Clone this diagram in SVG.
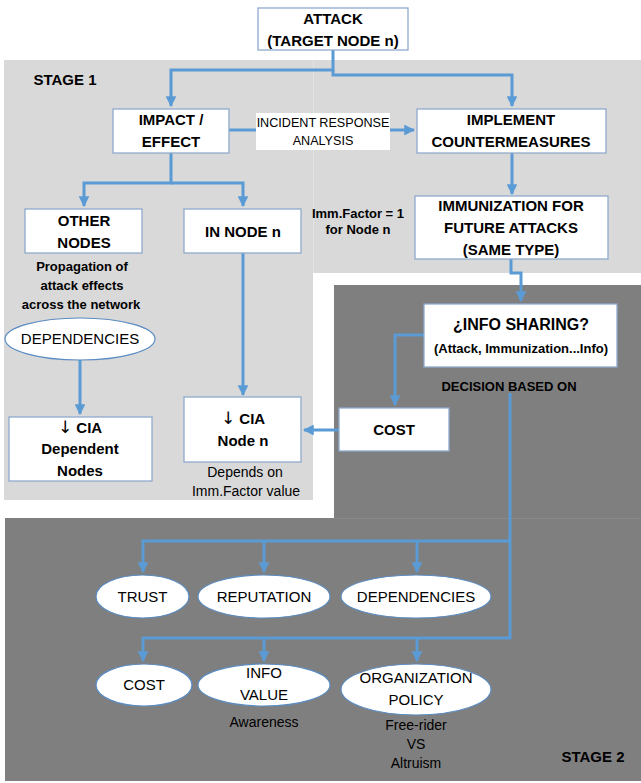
<svg xmlns="http://www.w3.org/2000/svg" width="641" height="783" viewBox="0 0 641 783">
<defs>
<style>
.box{fill:#ffffff;stroke:#8faacd;stroke-width:1.3}
.ell{fill:#ffffff;stroke:#5b8cc2;stroke-width:1.2}
.con{fill:none;stroke:#5b9bd5;stroke-width:3}
.b15{font-family:"Liberation Sans",Arial,sans-serif;font-weight:bold;font-size:15px;fill:#000;text-anchor:middle}
.b13{font-family:"Liberation Sans",Arial,sans-serif;font-weight:bold;font-size:13px;fill:#000;text-anchor:middle}
.r15{font-family:"Liberation Sans",Arial,sans-serif;font-size:15px;fill:#000;text-anchor:middle}
.r14{font-family:"Liberation Sans",Arial,sans-serif;font-size:14px;fill:#000;text-anchor:middle}
.r13{font-family:"Liberation Sans",Arial,sans-serif;font-size:12.6px;fill:#000;text-anchor:middle}
.arr{font-family:"DejaVu Sans",sans-serif;font-weight:normal;font-size:17px}
</style>
<marker id="ah" viewBox="0 0 10 10" refX="9" refY="5" markerWidth="3.6" markerHeight="3.6" orient="auto" markerUnits="strokeWidth">
<path d="M0,0 L10,5 L0,10 z" fill="#5b9bd5"/>
</marker>
</defs>
<rect x="0" y="0" width="641" height="783" fill="#ffffff"/>
<g id="backgrounds">
<rect x="4" y="60" width="637" height="213" fill="#d9d9d9"/>
<rect x="4" y="60" width="309" height="440" fill="#d9d9d9"/>
<line x1="313.5" y1="60" x2="313.5" y2="273" stroke="#e3e3e3" stroke-width="1"/>
<rect x="334" y="285" width="307" height="233" fill="#7f7f7f"/>
<rect x="5" y="518" width="636" height="263" fill="#7f7f7f"/>
<line x1="334" y1="518.5" x2="641" y2="518.5" stroke="#8a8a8a" stroke-width="1"/>
<text class="b15" x="65" y="85">STAGE 1</text>
<text class="b15" x="593" y="762">STAGE 2</text>
</g>
<g id="connectors">
<path class="con" d="M333,50 V70 H171 V106" marker-end="url(#ah)"/>
<path class="con" d="M333,70 V75 H512 V106" marker-end="url(#ah)"/>
<path class="con" d="M229,130 H256"/>
<path class="con" d="M390,130 H414" marker-end="url(#ah)"/>
<path class="con" d="M171,153 V183 H84 V206" marker-end="url(#ah)"/>
<path class="con" d="M171,183 H243 V206" marker-end="url(#ah)"/>
<path class="con" d="M512,153 V194" marker-end="url(#ah)"/>
<path class="con" d="M511,259 V273 H521 V301" marker-end="url(#ah)"/>
<path class="con" d="M424,335 H395 V405" marker-end="url(#ah)"/>
<path class="con" d="M339,430 H304" marker-end="url(#ah)"/>
<path class="con" d="M243,253 V395" marker-end="url(#ah)"/>
<path class="con" d="M80,360 V414" marker-end="url(#ah)"/>
<path class="con" d="M510,393 V638 H143 V661" marker-end="url(#ah)"/>
<path class="con" d="M510,541 H143 V572" marker-end="url(#ah)"/>
<path class="con" d="M264,541 V572" marker-end="url(#ah)"/>
<path class="con" d="M417,541 V572" marker-end="url(#ah)"/>
<path class="con" d="M264,638 V661" marker-end="url(#ah)"/>
<path class="con" d="M417,638 V661" marker-end="url(#ah)"/>
</g>
<g id="attack">
<rect class="box" x="258" y="8" width="150" height="42"/>
<text class="b15" x="333" y="24">ATTACK</text>
<text class="b15" x="333" y="46">(TARGET NODE n)</text>
</g>
<g id="impact">
<rect class="box" x="113" y="109" width="116" height="44"/>
<text class="b15" x="171" y="125">IMPACT /</text>
<text class="b15" x="171" y="147">EFFECT</text>
</g>
<g id="incident-label">
<rect x="256" y="113" width="134" height="37" fill="#ffffff"/>
<text class="r13" x="323" y="127">INCIDENT RESPONSE</text>
<text class="r13" x="323" y="145">ANALYSIS</text>
</g>
<g id="implement">
<rect class="box" x="417" y="109" width="189" height="44"/>
<text class="b15" x="511" y="125">IMPLEMENT</text>
<text class="b15" x="511" y="147">COUNTERMEASURES</text>
</g>
<g id="other-nodes">
<rect class="box" x="25" y="209" width="117" height="44"/>
<text class="b15" x="84" y="226">OTHER</text>
<text class="b15" x="84" y="248">NODES</text>
<text class="b13" x="82" y="271">Propagation of</text>
<text class="b13" x="82" y="290">attack effects</text>
<text class="b13" x="81" y="309">across the network</text>
</g>
<g id="in-node-n">
<rect class="box" x="184" y="209" width="117" height="44"/>
<text class="b15" x="243" y="237">IN NODE n</text>
</g>
<g id="imm-factor-note">
<text class="b13" x="358" y="218">Imm.Factor = 1</text>
<text class="b13" x="358" y="234">for Node n</text>
</g>
<g id="immunization">
<rect class="box" x="415" y="196" width="193" height="63"/>
<text class="b15" x="511" y="211">IMMUNIZATION FOR</text>
<text class="b15" x="511" y="233">FUTURE ATTACKS</text>
<text class="b15" x="511" y="255">(SAME TYPE)</text>
</g>
<g id="dependencies-1">
<ellipse class="ell" cx="80" cy="339" rx="75" ry="21"/>
<text class="r15" x="80" y="344">DEPENDENCIES</text>
</g>
<g id="cia-dependent">
<rect class="box" x="9" y="417" width="143" height="64"/>
<text class="b15" x="80" y="433"><tspan class="arr">↓</tspan> CIA</text>
<text class="b15" x="80" y="454">Dependent</text>
<text class="b15" x="80" y="476">Nodes</text>
</g>
<g id="cia-node-n">
<rect class="box" x="184" y="397" width="117" height="65"/>
<text class="b15" x="243" y="424"><tspan class="arr">↓</tspan> CIA</text>
<text class="b15" x="243" y="446">Node n</text>
<text class="r14" x="245" y="477">Depends on</text>
<text class="r14" x="246" y="496">Imm.Factor value</text>
</g>
<g id="info-sharing">
<rect class="box" x="424" y="304" width="193" height="63"/>
<text class="b15" x="521" y="330" style="font-size:16px">¿INFO SHARING?</text>
<text class="b13" x="521" y="353">(Attack, Immunization...Info)</text>
</g>
<g id="cost-box">
<rect class="box" x="339" y="408" width="110" height="43"/>
<text class="b15" x="394" y="435">COST</text>
</g>
<g id="decision">
<text class="b13" x="509" y="391">DECISION BASED ON</text>
</g>
<g id="trust">
<ellipse class="ell" cx="142.5" cy="596.5" rx="46.5" ry="21.5"/>
<text class="r15" x="142.5" y="602">TRUST</text>
</g>
<g id="reputation">
<ellipse class="ell" cx="264" cy="596.5" rx="66" ry="21.5"/>
<text class="r15" x="264" y="602">REPUTATION</text>
</g>
<g id="dependencies-2">
<ellipse class="ell" cx="416" cy="596.5" rx="75" ry="21.5"/>
<text class="r15" x="416" y="602">DEPENDENCIES</text>
</g>
<g id="cost-ellipse">
<ellipse class="ell" cx="144" cy="685" rx="48" ry="21"/>
<text class="r15" x="144" y="690">COST</text>
</g>
<g id="info-value">
<ellipse class="ell" cx="264" cy="685" rx="66" ry="21"/>
<text class="r15" x="264" y="678">INFO</text>
<text class="r15" x="264" y="700">VALUE</text>
<text class="r14" x="264" y="727">Awareness</text>
</g>
<g id="organization-policy">
<ellipse class="ell" cx="416" cy="689.5" rx="75" ry="25.5"/>
<text class="r15" x="416" y="683">ORGANIZATION</text>
<text class="r15" x="416" y="705">POLICY</text>
<text class="r14" x="416" y="730">Free-rider</text>
<text class="r14" x="416" y="749">VS</text>
<text class="r14" x="416" y="768">Altruism</text>
</g>
</svg>
